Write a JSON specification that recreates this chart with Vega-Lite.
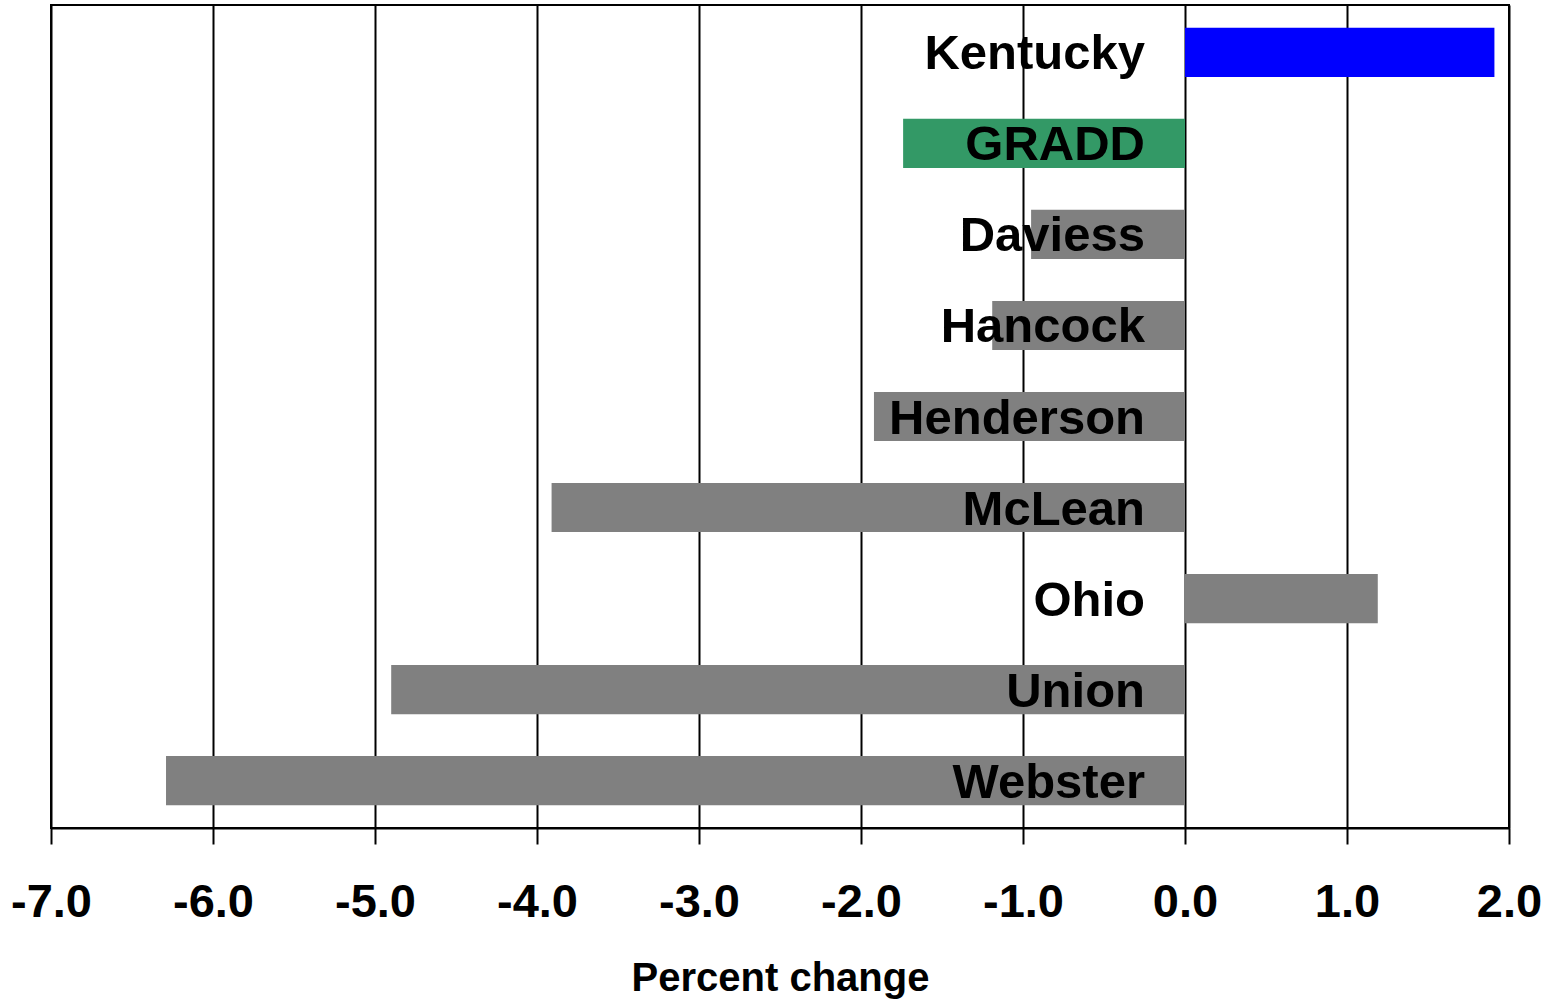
{
  "$schema": "https://vega.github.io/schema/vega-lite/v6.json",
  "autosize": {"type": "none"},
  "padding": {"left": 51, "top": 5, "right": 51, "bottom": 171},
  "width": 1458,
  "height": 823,
  "background": "white",
  "config": {
    "view": {"stroke": "black", "strokeWidth": 2},
    "font": "Liberation Sans"
  },
  "data": {
    "values": [
      {"area": "Kentucky", "change": 1.91, "group": "state"},
      {"area": "GRADD", "change": -1.74, "group": "region"},
      {"area": "Daviess", "change": -0.95, "group": "county"},
      {"area": "Hancock", "change": -1.19, "group": "county"},
      {"area": "Henderson", "change": -1.92, "group": "county"},
      {"area": "McLean", "change": -3.91, "group": "county"},
      {"area": "Ohio", "change": 1.19, "group": "county"},
      {"area": "Union", "change": -4.9, "group": "county"},
      {"area": "Webster", "change": -6.29, "group": "county"}
    ]
  },
  "encoding": {
    "y": {
      "field": "area",
      "type": "nominal",
      "sort": null,
      "scale": {"paddingInner": 0.46, "paddingOuter": 0.25},
      "axis": {"labels": false, "ticks": false, "title": null, "domain": false, "grid": false}
    }
  },
  "layer": [
    {
      "mark": {"type": "bar"},
      "encoding": {
        "x": {
          "field": "change",
          "type": "quantitative",
          "scale": {"domain": [-7, 2], "nice": false, "zero": false},
          "axis": {
            "values": [-7, -6, -5, -4, -3, -2, -1, 0, 1, 2],
            "format": ".1f",
            "labelExpr": "replace(datum.label, '\u2212', '-')",
            "grid": true,
            "gridColor": "black",
            "gridWidth": 2,
            "gridOpacity": 1,
            "domainColor": "black",
            "domainWidth": 2,
            "tickColor": "black",
            "tickWidth": 2,
            "tickSize": 16,
            "labelFont": "Liberation Sans",
            "labelFontSize": 47,
            "labelFontWeight": "bold",
            "labelColor": "black",
            "labelPadding": 35,
            "labelFlush": false,
            "labelOverlap": false,
            "title": "Percent change",
            "titleFont": "Liberation Sans",
            "titleFontSize": 40,
            "titleFontWeight": "bold",
            "titleColor": "black",
            "titlePadding": 33
          }
        },
        "x2": {"datum": 0},
        "color": {
          "field": "group",
          "type": "nominal",
          "scale": {"domain": ["state", "region", "county"], "range": ["#0000FF", "#339966", "#808080"]},
          "legend": null
        }
      }
    },
    {
      "mark": {"type": "text", "align": "right", "baseline": "middle", "dx": -40, "dy": 2, "font": "Liberation Sans", "fontSize": 49, "fontWeight": "bold", "color": "black"},
      "encoding": {
        "x": {"datum": 0},
        "text": {"field": "area"}
      }
    }
  ]
}
